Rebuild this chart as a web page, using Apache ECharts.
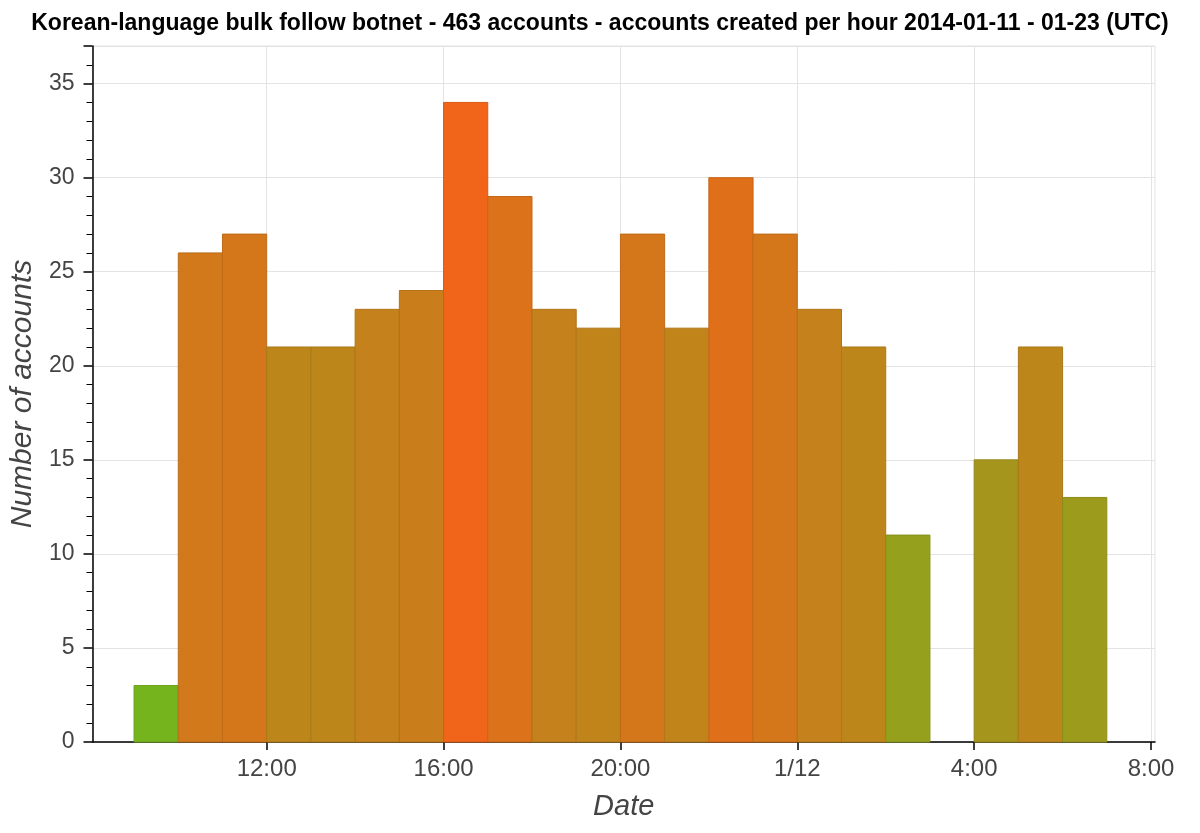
<!DOCTYPE html>
<html>
<head>
<meta charset="utf-8">
<script src="https://cdn.jsdelivr.net/npm/echarts@6/dist/echarts.min.js"></script>
<style>
  html, body { margin: 0; padding: 0; background: #fff; }
  #chart { width: 1200px; height: 833px; }
</style>
</head>
<body>
<div id="chart"></div>
<script>
// Hour starts, counted in hours from 2014-01-11 00:00 (UTC)
const hourStarts = [9, 10, 11, 12, 13, 14, 15, 16, 17, 18, 19, 20, 21, 22, 23, 24, 25, 26, 27, 28, 29, 30];
// Number of accounts created in each hour
const counts = [3, 26, 27, 21, 21, 23, 24, 34, 29, 23, 22, 27, 22, 30, 27, 23, 21, 11, 0, 15, 21, 13];
// X tick positions and their labels
const xTickValues = [12, 16, 20, 24, 28, 32];
const xTickLabels = ['12:00', '16:00', '20:00', '1/12', '4:00', '8:00'];

const titleText = 'Korean-language bulk follow botnet - 463 accounts - accounts created per hour 2014-01-11 - 01-23 (UTC)';

const data = hourStarts.map((h, i) => [h, counts[i]]);
const labelMap = {};
xTickValues.forEach((v, i) => { labelMap[v] = xTickLabels[i]; });

function darken(c, f) {
  const p = echarts.color.parse(c);
  return 'rgb(' + Math.round(p[0] * f) + ',' + Math.round(p[1] * f) + ',' + Math.round(p[2] * f) + ')';
}

const chart = echarts.init(document.getElementById('chart'), null, { renderer: 'canvas' });
const fontFam = '"Liberation Sans", Arial, Helvetica, sans-serif';

chart.setOption({
  animation: false,
  backgroundColor: '#ffffff',
  title: {
    text: titleText,
    left: 'center',
    top: 7,
    textStyle: { fontFamily: fontFam, fontWeight: 'bold', fontSize: 23, color: '#000' }
  },
  grid: {
    left: 91, right: 45, top: 46, bottom: 91,
    show: true, borderColor: '#e3e3e3', borderWidth: 1
  },
  visualMap: {
    show: false,
    type: 'continuous',
    dimension: 1,
    min: 3,
    max: 34,
    inRange: { color: ['#76b41d', '#f0651a'] }
  },
  xAxis: {
    type: 'value',
    min: 8.06,
    max: 32.09,
    name: 'Date',
    nameLocation: 'middle',
    nameGap: 50,
    nameTextStyle: { fontFamily: fontFam, fontStyle: 'italic', fontSize: 29, color: '#444' },
    axisLine: { show: true, onZero: false, lineStyle: { color: '#000', width: 1.5 } },
    axisTick: { show: true, length: 8, customValues: xTickValues, lineStyle: { color: '#000', width: 1.5 } },
    minorTick: { show: false },
    axisLabel: {
      customValues: xTickValues,
      formatter: v => labelMap[v] !== undefined ? labelMap[v] : '',
      fontFamily: fontFam, fontSize: 24, color: '#444', margin: 15
    },
    splitLine: { show: true, lineStyle: { color: '#e3e3e3', width: 1 } }
  },
  yAxis: {
    type: 'value',
    min: 0,
    max: 37,
    interval: 5,
    name: 'Number of accounts',
    nameLocation: 'middle',
    nameGap: 41,
    nameTextStyle: { fontFamily: fontFam, fontStyle: 'italic', fontSize: 30, color: '#444' },
    axisLine: { show: true, lineStyle: { color: '#000', width: 1.5 } },
    axisTick: { show: true, length: 9, lineStyle: { color: '#000', width: 1.5 } },
    minorTick: { show: true, splitNumber: 5, length: 6, lineStyle: { color: '#000', width: 1 } },
    axisLabel: { fontFamily: fontFam, fontSize: 23, color: '#444', margin: 18, showMaxLabel: false },
    splitLine: { show: true, lineStyle: { color: '#e3e3e3', width: 1 } }
  },
  series: [{
    type: 'custom',
    data: data,
    encode: { x: 0, y: 1 },
    renderItem: function (params, api) {
      const h = api.value(0);
      const v = api.value(1);
      if (!v) return null;
      const p0 = api.coord([h, 0]);
      const p1 = api.coord([h + 1, v]);
      const color = api.visual('color');
      return {
        type: 'rect',
        shape: { x: p0[0], y: p1[1], width: p1[0] - p0[0], height: p0[1] - p1[1] },
        style: { fill: color, stroke: darken(color, 0.9), lineWidth: 1 }
      };
    }
  }]
});
</script>
</body>
</html>
